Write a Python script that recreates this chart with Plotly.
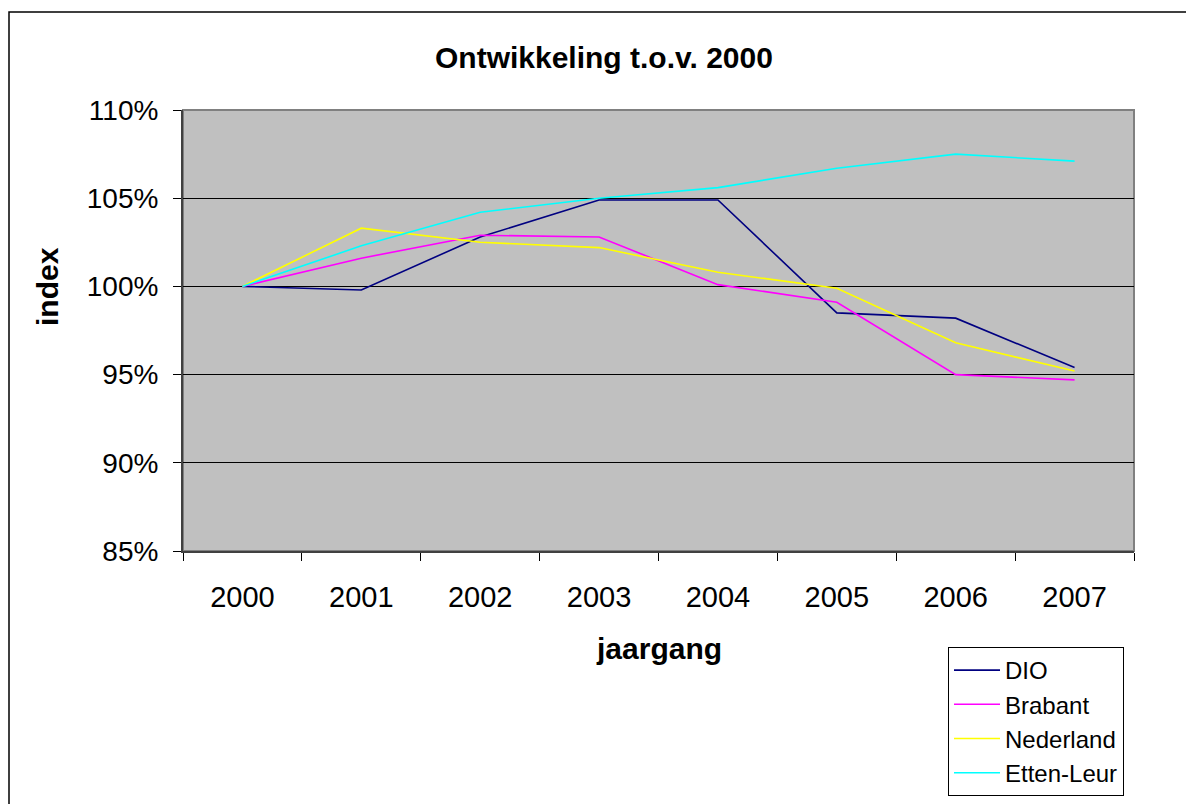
import plotly.graph_objects as go

years = ["2000", "2001", "2002", "2003", "2004", "2005", "2006", "2007"]
dio = [1.000, 0.998, 1.028, 1.049, 1.049, 0.985, 0.982, 0.954]
brabant = [1.000, 1.016, 1.029, 1.028, 1.001, 0.991, 0.950, 0.947]
nederland = [1.000, 1.033, 1.025, 1.022, 1.008, 0.999, 0.968, 0.952]
etten_leur = [1.000, 1.023, 1.042, 1.050, 1.056, 1.067, 1.075, 1.071]

series = [
    ("DIO", dio, "#000080"),
    ("Brabant", brabant, "#FF00FF"),
    ("Nederland", nederland, "#FFFF00"),
    ("Etten-Leur", etten_leur, "#00FFFF"),
]

FONT = "Liberation Sans, Arial, sans-serif"

fig = go.Figure()
for name, vals, col in series:
    fig.add_trace(go.Scatter(x=years, y=vals, mode="lines", name=name,
                             line=dict(color=col, width=1.6)))

L, R, T, B = 183, 52, 110, 253
W, H = 1186, 804
pw = W - L - R
ph = H - T - B

def px_x(x):
    return (x - L) / pw

def px_y(y):
    return (H - B - y) / ph

fig.update_layout(
    width=W, height=H,
    margin=dict(l=L, r=R, t=T, b=B, pad=0, autoexpand=False),
    paper_bgcolor="white",
    plot_bgcolor="#C0C0C0",
    font=dict(family=FONT, color="black"),
    showlegend=True,
    legend=dict(
        x=px_x(948), y=px_y(647), xanchor="left", yanchor="top",
        bgcolor="white", bordercolor="black", borderwidth=1,
        font=dict(family=FONT, size=24, color="black"),
        tracegroupgap=0, itemwidth=46,
    ),
    xaxis=dict(
        type="category", range=[-0.5, 7.5], automargin=False,
        showgrid=False, tickson="boundaries",
        ticks="outside", ticklen=8, tickcolor="black",
        showline=True, linecolor="#404040", linewidth=2,
        tickfont=dict(family=FONT, size=29, color="black"),
        ticklabelstandoff=19,
    ),
    yaxis=dict(
        range=[0.85, 1.10], dtick=0.05, tick0=0.85, tickformat=".0%",
        automargin=False,
        showgrid=True, gridcolor="black", gridwidth=1,
        zeroline=False,
        ticks="outside", ticklen=8, tickcolor="black",
        showline=True, linecolor="#404040", linewidth=2,
        tickfont=dict(family=FONT, size=28, color="black"),
        ticklabelstandoff=9,
    ),
    shapes=[
        dict(type="rect", xref="paper", yref="paper", x0=0, x1=1, y0=0, y1=1,
             line=dict(color="#808080", width=2), layer="below"),
        dict(type="rect", xref="paper", yref="paper",
             x0=px_x(9), x1=px_x(1197), y0=px_y(12), y1=px_y(830),
             line=dict(color="black", width=1.5)),
    ],
    annotations=[
        dict(text="<b>Ontwikkeling t.o.v. 2000</b>", xref="paper", yref="paper",
             x=px_x(604), y=px_y(58), xanchor="center", yanchor="middle",
             showarrow=False, font=dict(family=FONT, size=30, color="black")),
        dict(text="<b>jaargang</b>", xref="paper", yref="paper",
             x=px_x(659), y=px_y(648), xanchor="center", yanchor="middle",
             showarrow=False, font=dict(family=FONT, size=30, color="black")),
        dict(text="<b>index</b>", xref="paper", yref="paper",
             x=px_x(47), y=px_y(287), xanchor="center", yanchor="middle",
             textangle=-90,
             showarrow=False, font=dict(family=FONT, size=30, color="black")),
    ],
)

fig.write_html("out.html", config={"displayModeBar": False},
               post_script="document.body.style.margin='0';document.body.style.overflow='hidden';")
